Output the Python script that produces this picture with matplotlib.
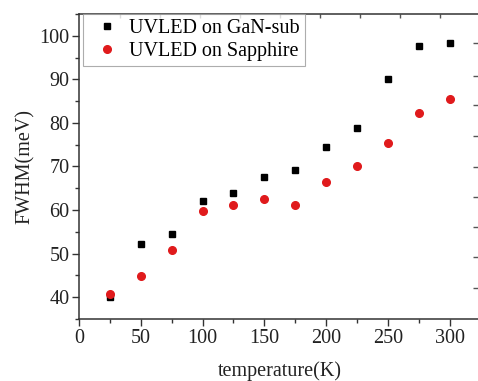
import matplotlib
matplotlib.use("Agg")
import matplotlib.pyplot as plt
from matplotlib.ticker import MultipleLocator, FixedLocator, NullFormatter

temperature = [25, 50, 75, 100, 125, 150, 175, 200, 225, 250, 275, 300]
fwhm_gan = [40.0, 52.1, 54.4, 62.1, 63.9, 67.5, 69.1, 74.4, 78.8, 90.0, 97.7, 98.3]
fwhm_sapphire = [40.8, 44.8, 50.9, 59.7, 61.1, 62.5, 61.1, 66.5, 70.2, 75.4, 82.2, 85.4]
labels = ["UVLED on GaN-sub", "UVLED on Sapphire"]
top_ticks = [33.2, 65.6, 98.0, 130.4, 162.8, 195.1, 227.5, 259.9, 292.3]
right_ticks = [98.4, 90.8, 84.1, 77.0, 69.9, 63.0, 56.1, 49.2, 42.1]

plt.rcParams['font.family'] = ['Liberation Serif', 'DejaVu Serif']

fig = plt.figure(figsize=(4.78, 3.81), dpi=100)
ax = fig.add_axes([0.1653, 0.1627, 0.8389, 0.8006])

ax.plot(temperature, fwhm_gan, linestyle='none', marker='s', markersize=5,
        color='black', label=labels[0])
ax.plot(temperature, fwhm_sapphire, linestyle='none', marker='o', markersize=5.5,
        color='#e01a1c', label=labels[1])

ax.set_xlim(0, 324.7)
ax.set_ylim(35, 105)
ax.xaxis.set_major_locator(MultipleLocator(50))
ax.xaxis.set_minor_locator(MultipleLocator(25))
ax.yaxis.set_major_locator(MultipleLocator(10))
ax.yaxis.set_minor_locator(MultipleLocator(5))

for s in ax.spines.values():
    s.set_linewidth(1.1)
    s.set_color('#333333')

ax.tick_params(axis='both', which='major', direction='out', length=5, width=1,
               labelsize=14.5, colors='#333333', labelcolor='#222222', pad=2)
ax.tick_params(axis='both', which='minor', direction='out', length=3, width=1,
               colors='#333333')
ax.tick_params(which='both', top=False, right=False)

# top and right axes carry their own inward ticks
secx = ax.secondary_xaxis('top')
secx.xaxis.set_major_locator(FixedLocator(top_ticks))
secx.xaxis.set_major_formatter(NullFormatter())
secx.tick_params(direction='in', length=3, width=1, colors='#555555')
secx.spines['top'].set_visible(False)

secy = ax.secondary_yaxis('right')
secy.yaxis.set_major_locator(FixedLocator(right_ticks))
secy.yaxis.set_major_formatter(NullFormatter())
secy.tick_params(direction='in', length=5, width=1, colors='#555555')
secy.spines['right'].set_visible(False)

ax.set_xlabel('temperature(K)', fontsize=14.5, labelpad=10, color='#222222')
ax.set_ylabel('FWHM(meV)', fontsize=14.5, labelpad=3, color='#222222')

leg = ax.legend(loc='upper left', bbox_to_anchor=(0.01, 1.0), fontsize=14.5,
                frameon=True, fancybox=False, handletextpad=0.15,
                borderpad=0.25, labelspacing=0.2, handlelength=1.9,
                borderaxespad=0.0)
leg.get_frame().set_edgecolor('#999999')
leg.get_frame().set_linewidth(0.8)

fig.savefig('out.png', dpi=100)
